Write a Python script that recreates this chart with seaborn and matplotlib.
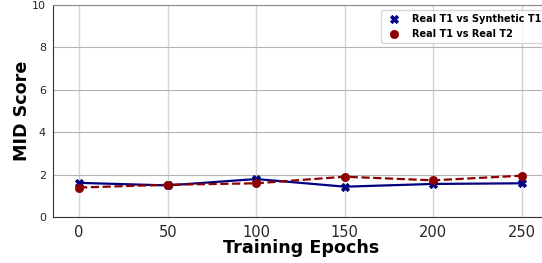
import pandas as pd
import matplotlib
matplotlib.use("Agg")
import matplotlib.pyplot as plt
import seaborn as sns

# values
epochs = [0, 50, 100, 150, 200, 250]
synthetic_t1 = [1.61, 1.49, 1.79, 1.43, 1.56, 1.59]
real_t2 = [1.39, 1.52, 1.59, 1.90, 1.73, 1.95]

df = pd.DataFrame({"epoch": epochs, "synth": synthetic_t1, "real": real_t2})

sns.set_style("whitegrid")
plt.rcParams['font.family'] = ['DejaVu Sans']

fig = plt.figure(figsize=(5.42, 2.63), dpi=100)
ax = fig.add_axes([53 / 542, 46 / 263, 497 / 542, 212 / 263])

sns.lineplot(data=df, x="epoch", y="synth", ax=ax, color="navy", linewidth=1.6, legend=False)
sns.lineplot(data=df, x="epoch", y="real", ax=ax, color="darkred", linewidth=1.6,
             linestyle="--", legend=False)
sns.scatterplot(data=df, x="epoch", y="synth", ax=ax, color="navy", marker="X", s=36,
                edgecolor="navy", label="Real T1 vs Synthetic T1", zorder=3)
sns.scatterplot(data=df, x="epoch", y="real", ax=ax, color="darkred", marker="o", s=36,
                edgecolor="darkred", label="Real T1 vs Real T2", zorder=3)

ax.set_xlim(-14.7, 265.8)
ax.set_ylim(0, 10)
ax.set_xticks(epochs)
ax.set_yticks([0, 2, 4, 6, 8, 10])
ax.grid(True, axis="y", color="#b4b4b4", linewidth=0.8)
ax.grid(True, axis="x", color="#d4d4d4", linewidth=1.0)
ax.tick_params(axis="x", labelsize=10.5, length=3, color="#333333", pad=2.5)
ax.tick_params(axis="y", labelsize=8, length=3, color="#333333", pad=2)
for side in ["left", "bottom"]:
    ax.spines[side].set_color("#333333")
ax.spines["top"].set_color("#888888")

ax.set_xlabel("Training Epochs", fontsize=12.6, fontweight="bold", color="black", labelpad=-0.5)
ax.set_ylabel("MID Score", fontsize=12.6, fontweight="bold", color="black", labelpad=1)

leg = ax.legend(loc="upper right", prop={"weight": "bold", "size": 7}, framealpha=0.8)
for t in leg.get_texts():
    t.set_color("black")

fig.savefig("out.png", dpi=100)
